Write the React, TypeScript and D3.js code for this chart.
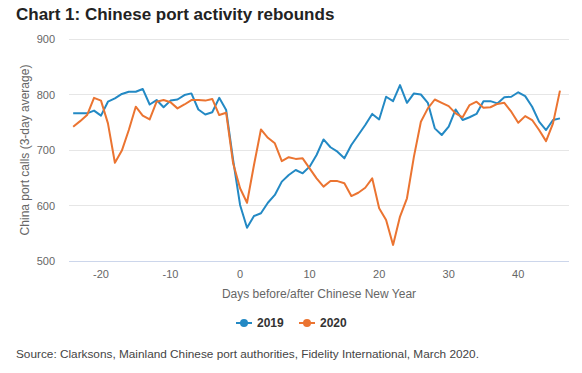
import { useEffect, useRef } from 'react'
import * as d3 from 'd3'

const days = d3.range(-24, 47)

// China port calls, 3-day average
const calls2019 = [
  766, 766, 766, 771, 762, 787, 793, 801, 805, 805, 810, 782, 790, 777, 789, 791, 799, 802, 773, 764, 768, 794, 772,
  682, 601, 560, 581, 586, 605, 619, 643, 655, 664, 658, 670, 691, 719, 705, 697, 685, 709, 727, 745, 765, 755,
  796, 788, 817, 785, 802, 800, 785, 739, 727, 742, 773, 754, 759, 765, 788, 788, 784, 795, 796, 804, 797, 778, 751,
  736, 754, 757,
]
const calls2020 = [
  742, 752, 763, 794, 789, 748, 677, 699, 736, 778, 762, 755, 787, 790, 786, 775, 782, 790, 790, 789, 792, 763, 767,
  676, 631, 605, 673, 737, 722, 712, 680, 687, 684, 685, 667, 649, 634, 644, 644, 640, 617, 623, 632, 649, 595,
  574, 529, 580, 613, 688, 751, 775, 791, 785, 779, 766, 759, 781, 787, 776, 777, 783, 785, 769, 749, 761, 754, 736,
  716, 748, 807,
]

const xTicks = [-20, -10, 0, 10, 20, 30, 40]
const yTicks = [500, 600, 700, 800, 900]

const seriesList = [
  { name: '2019', values: calls2019, color: '#2389c4' },
  { name: '2020', values: calls2020, color: '#eb7431' },
]

const W = 582
const H = 373
const font = '"Liberation Sans", Arial, sans-serif'

export default function App() {
  const svgRef = useRef<SVGSVGElement>(null)

  useEffect(() => {
    if (!svgRef.current) return
    const svg = d3.select(svgRef.current)
    svg.selectAll('*').remove()

    const left = 69
    const right = 569
    const top = 39
    const bottom = 261

    const x = d3.scaleLinear().domain([-24.6, 47.3]).range([left, right])
    const y = d3.scaleLinear().domain([500, 900]).range([bottom, top])

    // Title
    svg.append('text')
      .attr('x', 16).attr('y', 20)
      .attr('font-family', font).attr('font-size', '17px').attr('font-weight', 'bold')
      .attr('fill', '#222')
      .text('Chart 1: Chinese port activity rebounds')

    // Grid
    for (const t of yTicks) {
      svg.append('line')
        .attr('x1', left).attr('x2', right)
        .attr('y1', y(t)).attr('y2', y(t))
        .attr('stroke', t === 500 ? '#ccd6eb' : '#e6e6e6').attr('stroke-width', 1)
        .attr('shape-rendering', 'crispEdges')
      svg.append('text')
        .attr('x', 55).attr('y', y(t) + 4)
        .attr('text-anchor', 'end')
        .attr('font-family', font).attr('font-size', '11px').attr('fill', '#666')
        .text(t)
    }

    for (const t of xTicks) {
      svg.append('text')
        .attr('x', x(t)).attr('y', y(500) + 17)
        .attr('text-anchor', 'middle')
        .attr('font-family', font).attr('font-size', '11px').attr('fill', '#666')
        .text(t)
    }

    // Axis titles
    svg.append('text')
      .attr('x', (left + right) / 2).attr('y', 298)
      .attr('text-anchor', 'middle')
      .attr('font-family', font).attr('font-size', '12px').attr('fill', '#666')
      .text('Days before/after Chinese New Year')

    svg.append('text')
      .attr('transform', `translate(29,${(top + bottom) / 2}) rotate(-90)`)
      .attr('text-anchor', 'middle')
      .attr('font-family', font).attr('font-size', '12px').attr('fill', '#666')
      .text('China port calls (3-day average)')

    // Lines
    const line = d3.line<number>()
      .x((_, i) => x(days[i]))
      .y(d => y(d))

    for (const s of seriesList) {
      svg.append('path')
        .datum(s.values)
        .attr('fill', 'none')
        .attr('stroke', s.color)
        .attr('stroke-width', 2)
        .attr('stroke-linejoin', 'round')
        .attr('d', line)
    }

    // Legend
    const legendX = [236, 299]
    seriesList.forEach((s, i) => {
      const lx = legendX[i]
      const g = svg.append('g').attr('transform', `translate(${lx},323)`)
      g.append('line').attr('x1', 0).attr('x2', 16).attr('y1', 0).attr('y2', 0)
        .attr('stroke', s.color).attr('stroke-width', 2)
      g.append('circle').attr('cx', 8).attr('cy', 0).attr('r', 4).attr('fill', s.color)
      g.append('text')
        .attr('x', 21).attr('y', 4)
        .attr('font-family', font).attr('font-size', '12px').attr('font-weight', 'bold')
        .attr('fill', '#333')
        .text(s.name)
    })

    // Source
    svg.append('text')
      .attr('x', 16).attr('y', 358)
      .attr('font-family', font).attr('font-size', '11.8px').attr('fill', '#444')
      .text('Source: Clarksons, Mainland Chinese port authorities, Fidelity International, March 2020.')
  }, [])

  return (
    <svg
      ref={svgRef}
      width={W}
      height={H}
      style={{ position: 'absolute', left: 0, top: 0, background: '#fff' }}
    />
  )
}
